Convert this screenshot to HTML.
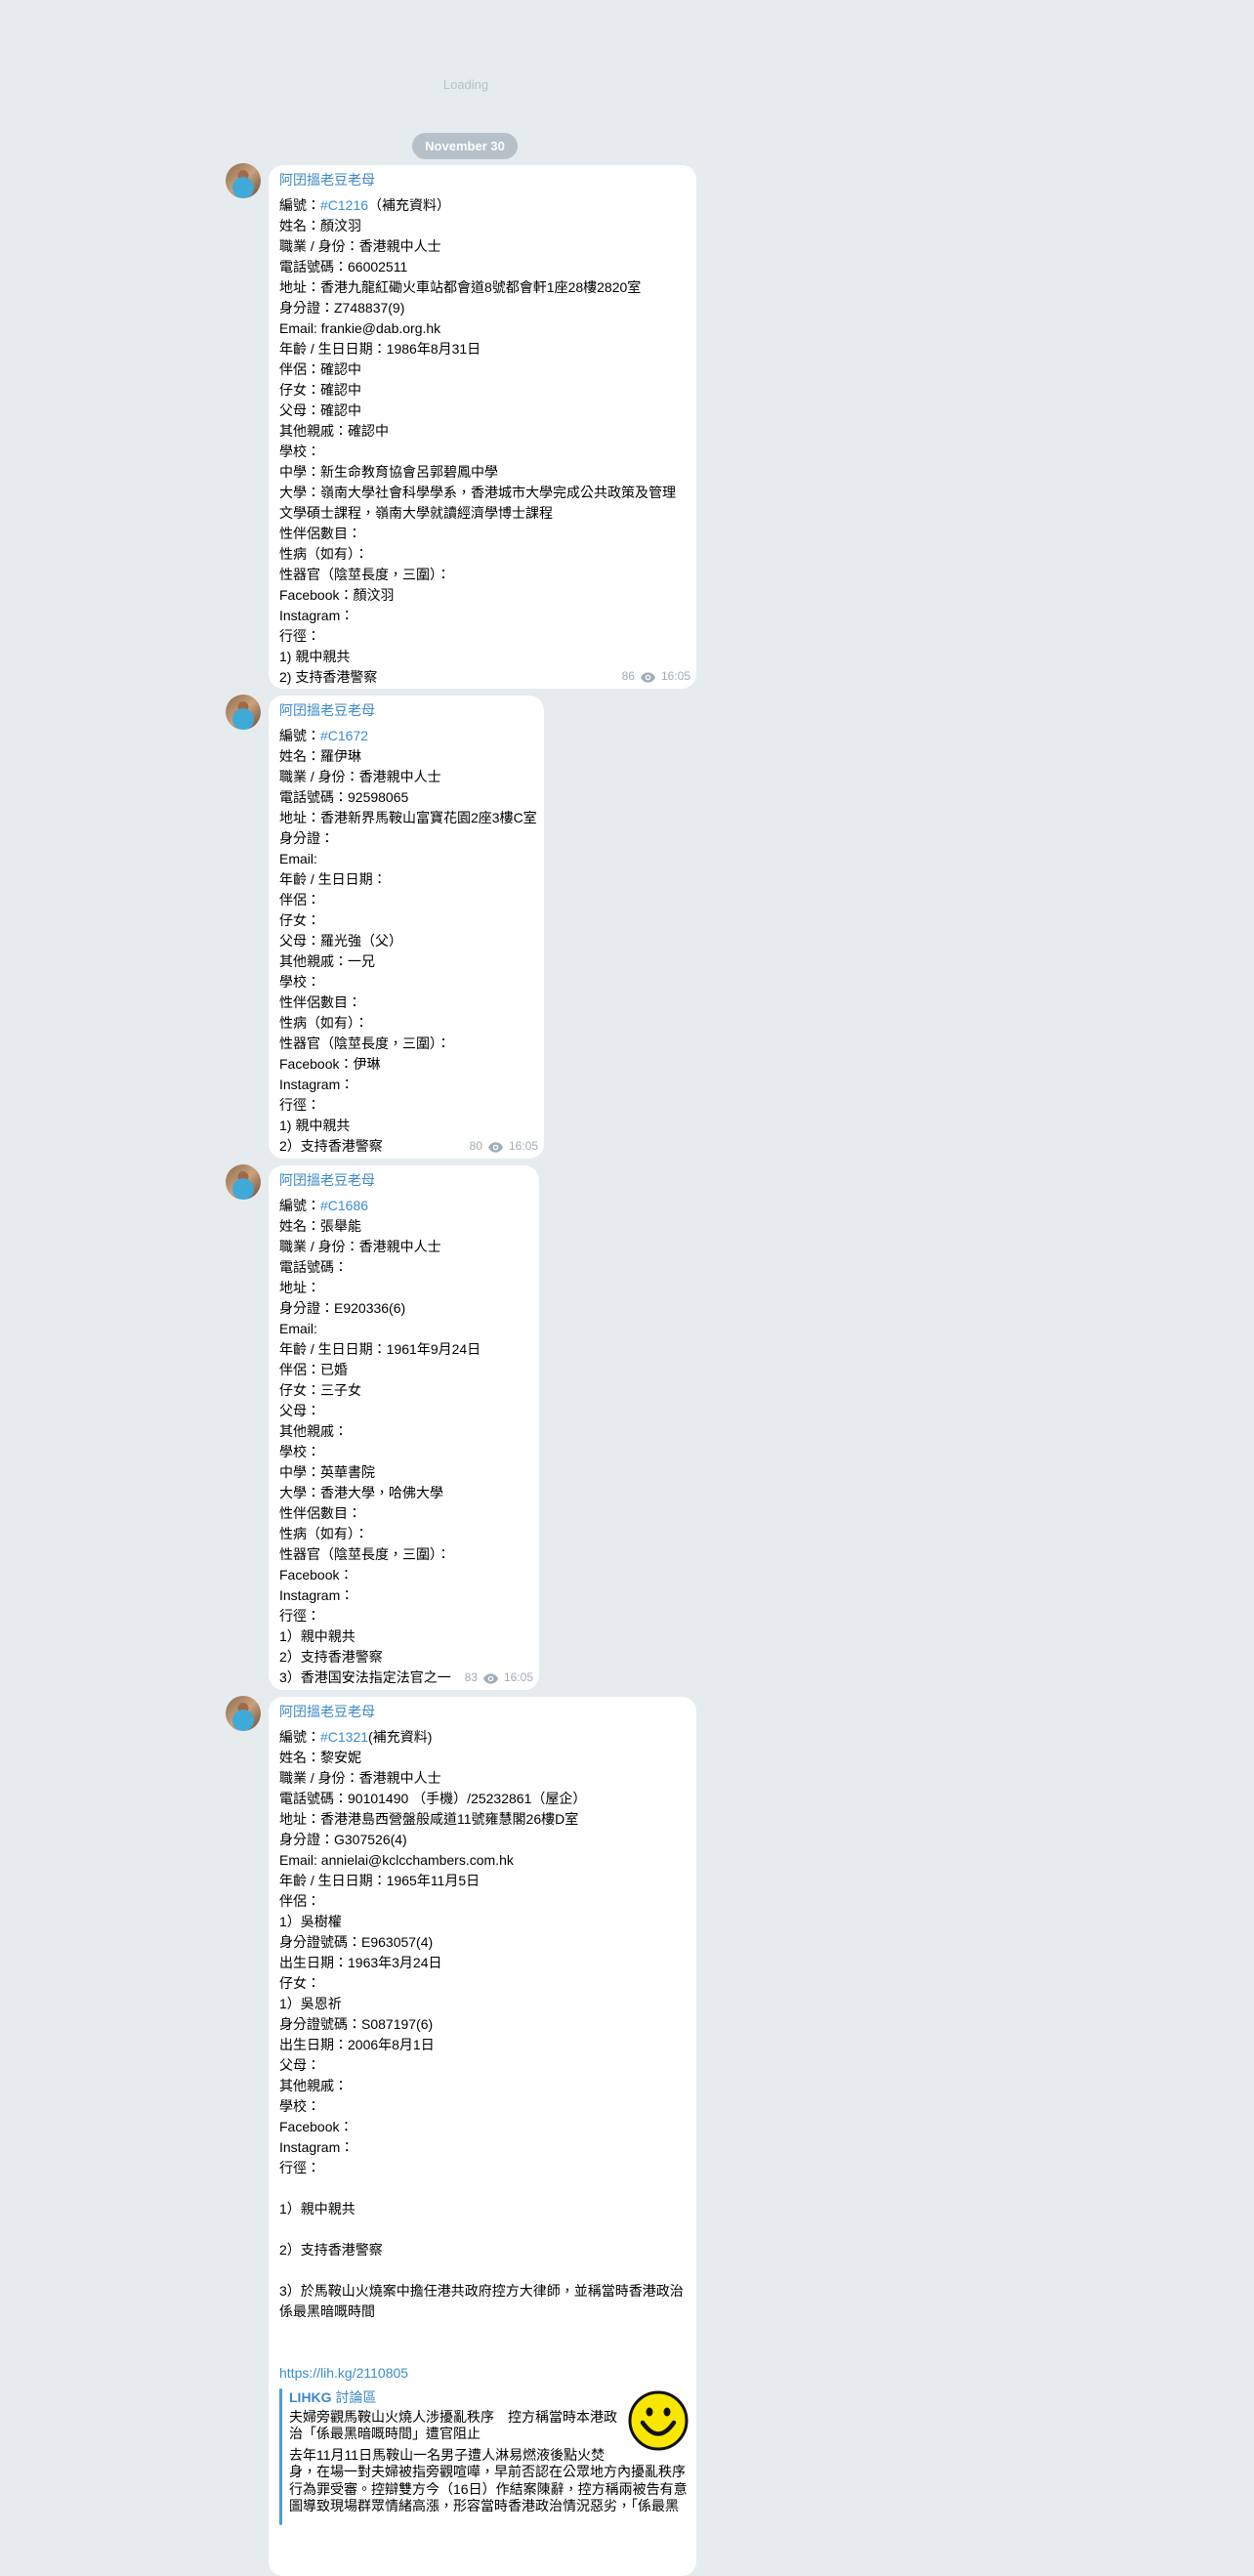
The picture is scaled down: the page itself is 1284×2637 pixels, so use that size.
<!DOCTYPE html>
<html><head><meta charset="utf-8"><style>
html,body{margin:0;padding:0}
body{width:1284px;height:2568px;background:#e6ebee;position:relative;overflow:hidden;font-family:"Liberation Sans","Noto Sans CJK TC",sans-serif;font-size:14px;color:#000}
.ld{position:absolute;left:427px;top:79px;width:100px;text-align:center;color:#b9c1c9;font-size:13px}
.pill{position:absolute;left:422px;top:136px;width:108px;height:27px;border-radius:14px;background:#b5c0c9;color:#fff;font-weight:bold;font-size:13px;line-height:27px;text-align:center}
.av{position:absolute;left:231px;width:36px;height:36px;border-radius:50%;overflow:hidden;background:radial-gradient(circle at 50% 70%,#3fa9d8 0 35%,transparent 36%),radial-gradient(circle at 50% 35%,#a06a4a 0 18%,transparent 19%),linear-gradient(135deg,#8a6a4e,#c9a27c 50%,#6b4a36)}
.b{position:absolute;left:275px;background:#fff;border-radius:15px;padding:5px 11px 0 11px;box-sizing:border-box;overflow:hidden;line-height:21px;white-space:nowrap}
.n{color:#3d88c6;margin-bottom:5px}
.l{color:#3a8dcc}
.m{position:absolute;right:6px;bottom:2px;color:#a0acb8;font-size:12px;line-height:21px}
.m svg{vertical-align:-3px;margin:0 6px}
</style></head><body>
<div class="ld">Loading</div>
<div class="pill">November 30</div>

<div class="av" style="top:167px"></div>
<div class="b" style="top:169px;width:438px;height:536px">
<div class="n">阿囝搵老豆老母</div>
<div>編號：<span class="l">#C1216</span>（補充資料）<br>姓名：顏汶羽<br>職業 / 身份：香港親中人士<br>電話號碼：66002511<br>地址：香港九龍紅磡火車站都會道8號都會軒1座28樓2820室<br>身分證：Z748837(9)<br>Email: frankie@dab.org.hk<br>年齡 / 生日日期：1986年8月31日<br>伴侶：確認中<br>仔女：確認中<br>父母：確認中<br>其他親戚：確認中<br>學校：<br>中學：新生命教育協會呂郭碧鳳中學<br>大學：嶺南大學社會科學學系，香港城市大學完成公共政策及管理<br>文學碩士課程，嶺南大學就讀經濟學博士課程<br>性伴侶數目：<br>性病（如有）：<br>性器官（陰莖長度，三圍）：<br>Facebook：顏汶羽<br>Instagram：<br>行徑：<br>1) 親中親共<br>2) 支持香港警察</div>
<div class="m">86<svg width="15" height="11" viewBox="0 0 16 11"><path d="M8 0C4 0 1 3 0 5.5 1 8 4 11 8 11s7-3 8-5.5C15 3 12 0 8 0z" fill="#a0acb8"/><circle cx="8" cy="5.5" r="3" fill="#fff"/><circle cx="8" cy="5.5" r="1.6" fill="#a0acb8"/></svg>16:05</div>
</div>

<div class="av" style="top:711px"></div>
<div class="b" style="top:712px;width:282px;height:474px">
<div class="n">阿囝搵老豆老母</div>
<div>編號：<span class="l">#C1672</span><br>姓名：羅伊琳<br>職業 / 身份：香港親中人士<br>電話號碼：92598065<br>地址：香港新界馬鞍山富寶花園2座3樓C室<br>身分證：<br>Email:<br>年齡 / 生日日期：<br>伴侶：<br>仔女：<br>父母：羅光強（父）<br>其他親戚：一兄<br>學校：<br>性伴侶數目：<br>性病（如有）：<br>性器官（陰莖長度，三圍）：<br>Facebook：伊琳<br>Instagram：<br>行徑：<br>1) 親中親共<br>2）支持香港警察</div>
<div class="m">80<svg width="15" height="11" viewBox="0 0 16 11"><path d="M8 0C4 0 1 3 0 5.5 1 8 4 11 8 11s7-3 8-5.5C15 3 12 0 8 0z" fill="#a0acb8"/><circle cx="8" cy="5.5" r="3" fill="#fff"/><circle cx="8" cy="5.5" r="1.6" fill="#a0acb8"/></svg>16:05</div>
</div>

<div class="av" style="top:1192px"></div>
<div class="b" style="top:1193px;width:277px;height:537px">
<div class="n">阿囝搵老豆老母</div>
<div>編號：<span class="l">#C1686</span><br>姓名：張舉能<br>職業 / 身份：香港親中人士<br>電話號碼：<br>地址：<br>身分證：E920336(6)<br>Email:<br>年齡 / 生日日期：1961年9月24日<br>伴侶：已婚<br>仔女：三子女<br>父母：<br>其他親戚：<br>學校：<br>中學：英華書院<br>大學：香港大學，哈佛大學<br>性伴侶數目：<br>性病（如有）：<br>性器官（陰莖長度，三圍）：<br>Facebook：<br>Instagram：<br>行徑：<br>1）親中親共<br>2）支持香港警察<br>3）香港国安法指定法官之一</div>
<div class="m">83<svg width="15" height="11" viewBox="0 0 16 11"><path d="M8 0C4 0 1 3 0 5.5 1 8 4 11 8 11s7-3 8-5.5C15 3 12 0 8 0z" fill="#a0acb8"/><circle cx="8" cy="5.5" r="3" fill="#fff"/><circle cx="8" cy="5.5" r="1.6" fill="#a0acb8"/></svg>16:05</div>
</div>

<div class="av" style="top:1736px"></div>
<div class="b" style="top:1737px;width:438px;height:900px">
<div class="n">阿囝搵老豆老母</div>
<div>編號：<span class="l">#C1321</span>(補充資料)<br>姓名：黎安妮<br>職業 / 身份：香港親中人士<br>電話號碼：90101490 （手機）/25232861（屋企）<br>地址：香港港島西營盤般咸道11號雍慧閣26樓D室<br>身分證：G307526(4)<br>Email: annielai@kclcchambers.com.hk<br>年齡 / 生日日期：1965年11月5日<br>伴侶：<br>1）吳樹權<br>身分證號碼：E963057(4)<br>出生日期：1963年3月24日<br>仔女：<br>1）吳恩祈<br>身分證號碼：S087197(6)<br>出生日期：2006年8月1日<br>父母：<br>其他親戚：<br>學校：<br>Facebook：<br>Instagram：<br>行徑：<br>&nbsp;<br>1）親中親共<br>&nbsp;<br>2）支持香港警察<br>&nbsp;<br>3）於馬鞍山火燒案中擔任港共政府控方大律師，並稱當時香港政治<br>係最黑暗嘅時間<br>&nbsp;<br>&nbsp;<br><span class="l">https://lih.kg/2110805</span></div>
</div>
<div style="position:absolute;left:286px;top:2445px;width:3px;height:140px;background:#4f9bd6;border-radius:2px"></div>
<div style="position:absolute;left:296px;top:2446px;line-height:17.5px;white-space:nowrap">
<div style="color:#3d88c6;font-weight:bold;margin-bottom:2px">LIHKG <span style="font-weight:normal">討論區</span></div>
<div>夫婦旁觀馬鞍山火燒人涉擾亂秩序　控方稱當時本港政<br>治「係最黑暗嘅時間」遭官阻止</div>
<div style="margin-top:4px">去年11月11日馬鞍山一名男子遭人淋易燃液後點火焚<br>身，在場一對夫婦被指旁觀喧嘩，早前否認在公眾地方內擾亂秩序<br>行為罪受審。控辯雙方今（16日）作結案陳辭，控方稱兩被告有意<br>圖導致現場群眾情緒高漲，形容當時香港政治情況惡劣，「係最黑</div>
</div>
<svg style="position:absolute;left:643px;top:2447px" width="62" height="62" viewBox="0 0 62 62"><circle cx="31" cy="31" r="29" fill="#f7e600" stroke="#111" stroke-width="3"/><ellipse cx="22" cy="22" rx="3.5" ry="4.5" fill="#111"/><ellipse cx="40" cy="22" rx="3.5" ry="4.5" fill="#111"/><path d="M15 33 Q31 56 47 33" fill="none" stroke="#111" stroke-width="4.5" stroke-linecap="round"/></svg>
</body></html>
